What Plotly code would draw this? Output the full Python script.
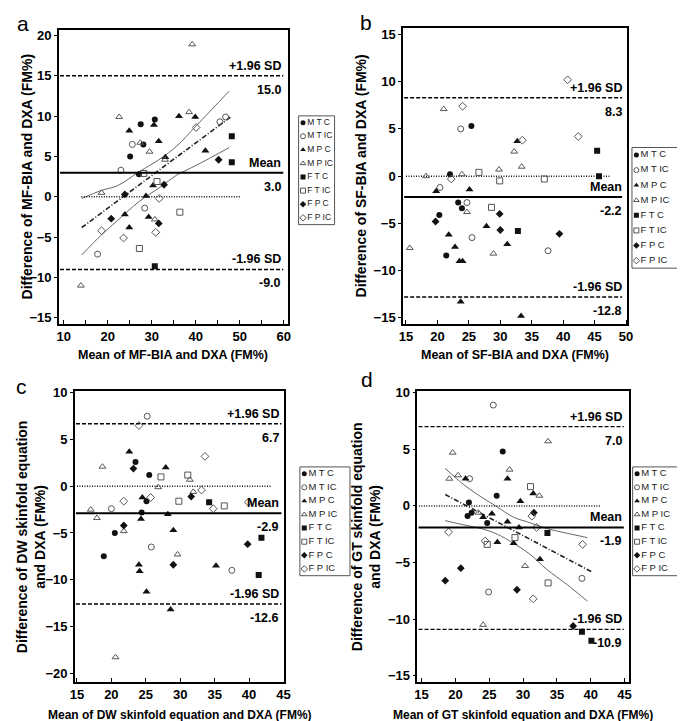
import plotly.graph_objects as go

W, H = 685, 721

# ---------------- categories ----------------
groups = ["MTC", "MTIC", "MPC", "MPIC", "FTC", "FTIC", "FPC", "FPIC"]
legend_text = ["M T C", "M T IC", "M P C", "M P IC", "F T C", "F T IC", "F P C", "F P IC"]

# ---------------- panel a : MF-BIA ----------------
a_x = [27.5, 30.7, 28.1, 25.1, 27.1,
       23.0, 25.6, 28.4, 17.7, 45.5, 46.8,
       24.9, 30.5, 36.2, 39.9, 31.6, 33.1, 42.2, 30.3, 28.7, 23.9, 29.3, 24.9,
       22.6, 27.4, 29.5, 38.5, 18.6, 30.7, 33.0, 39.2, 13.9,
       48.2, 48.2, 30.7,
       28.2, 31.2, 36.4, 27.2,
       45.2, 32.8, 23.9, 20.8, 31.6,
       40.1, 31.7, 18.6, 23.6, 30.9]
a_y = [9.0, 9.6, 6.5, 5.0, 2.8,
       3.3, 6.5, -1.4, -7.1, 9.3, 9.9,
       8.2, 8.9, 10.0, 9.9, 6.9, 4.9, 5.7, 1.4, 0.1, -2.2, -2.5, -3.8,
       9.9, 6.7, 5.6, 10.5, 0.5, -2.8, 4.6, 18.9, -11.0,
       7.5, 4.3, -8.6,
       2.9, 1.9, -1.9, -6.4,
       4.6, 1.5, 0.3, -2.7, -3.3,
       8.6, -0.2, -4.2, -5.1, -4.4]
a_g = ["MTC"] * 5 + ["MTIC"] * 6 + ["MPC"] * 12 + ["MPIC"] * 9 + ["FTC"] * 3 + ["FTIC"] * 4 + ["FPC"] * 5 + ["FPIC"] * 5
a_lim = [15.0, 3.0, -9.0]
a_zero = [14.0, 50.2]
a_reg_x = [14.1, 48.2]
a_reg_y = [-3.8, 10.0]
a_ci_x = [14.1, 18.6, 22.3, 27.1, 31.9, 35.7, 40.1, 47.6]
a_ci_up = [-0.2, 0.8, 1.4, 3.1, 4.7, 6.3, 8.8, 13.1]
a_ci_lo = [-7.2, -4.7, -2.9, -0.6, 1.2, 2.7, 3.9, 6.1]

# ---------------- panel b : SF-BIA ----------------
b_x = [25.4, 22.0, 23.3, 23.9, 20.3, 21.4,
       23.7, 20.4, 24.7, 25.5, 37.6,
       32.7, 19.8, 25.1, 21.8, 22.8, 23.5, 24.0, 27.8, 31.1, 23.7, 33.3,
       21.0, 18.2, 23.9, 29.8, 32.2, 33.4, 24.7, 28.9, 15.6,
       45.4, 45.7, 32.8,
       26.6, 29.9, 37.0, 28.6,
       29.9, 30.0, 19.7, 39.4,
       24.0, 33.5, 42.4, 22.2, 40.7]
b_y = [5.3, 0.2, -2.8, -3.4, -4.1, -8.4,
       5.0, -1.2, -2.8, -6.5, -7.9,
       3.7, -1.6, -1.4, -6.2, -7.5, -9.0, -9.0, -5.3, -7.2, -13.3, -14.8,
       7.1, 0.0, 0.2, 0.7, 2.6, 1.0, -3.8, -8.2, -7.6,
       2.7, 0.0, -5.8,
       0.4, -0.5, -0.3, -3.3,
       -4.0, -5.7, -4.8, -6.1,
       7.4, 3.8, 4.2, -0.3, 10.2]
b_g = ["MTC"] * 6 + ["MTIC"] * 5 + ["MPC"] * 11 + ["MPIC"] * 9 + ["FTC"] * 3 + ["FTIC"] * 4 + ["FPC"] * 4 + ["FPIC"] * 5
b_lim = [8.3, -2.2, -12.8]
b_zero = [15.0, 47.6]

# ---------------- panel c : DW skinfold ----------------
c_x = [23.5, 25.5, 25.1, 24.4, 20.5, 18.9,
       25.2, 20.0, 25.8, 37.5,
       22.6, 27.9, 24.5, 24.3, 28.2, 29.0, 24.0, 24.1, 25.1, 28.6, 35.2,
       18.7, 26.8, 31.4, 31.9, 17.0, 17.9, 21.8, 29.6, 20.6,
       34.2, 41.8, 41.4,
       27.2, 31.1, 29.8, 36.4,
       23.2, 21.8, 31.6, 29.0, 39.8,
       24.0, 33.6, 21.8, 25.7, 33.1, 34.8, 39.9]
c_y = [2.6, 1.2, -1.6, -2.8, -5.0, -7.5,
       7.5, -2.4, -6.5, -9.0,
       3.7, 2.0, -1.2, -3.5, -3.0, -4.7, -8.4, -9.1, -11.3, -13.2, -8.5,
       2.1, -0.1, 0.7, -0.6, -2.5, -3.4, -4.8, -7.3, -18.3,
       -1.7, -5.5, -9.5,
       1.0, 1.2, -1.6, -2.1,
       1.9, -4.2, -1.1, -8.4, -6.2,
       6.5, 3.2, -1.6, -1.2, -0.4, -2.4, -1.7]
c_g = ["MTC"] * 6 + ["MTIC"] * 4 + ["MPC"] * 11 + ["MPIC"] * 9 + ["FTC"] * 3 + ["FTIC"] * 4 + ["FPC"] * 5 + ["FPIC"] * 7
c_lim = [6.7, -2.9, -12.6]
c_zero = [15.0, 43.2]

# ---------------- panel d : GT skinfold ----------------
d_x = [27.0, 26.1, 22.0, 22.4, 21.8, 24.7,
       25.6, 22.1, 24.9, 38.7,
       21.5, 27.7, 31.5, 29.6, 25.4, 24.1, 27.7, 29.4, 26.2, 28.6, 32.5,
       19.6, 19.1, 20.4, 28.0, 33.7, 32.4, 23.4, 30.3, 24.1,
       33.6, 38.7, 40.1,
       31.1, 28.8, 24.7, 33.7,
       31.6, 20.8, 18.5, 29.1, 37.4,
       31.3, 19.0, 32.0, 24.4, 38.8, 31.5]
d_y = [4.8, 0.9, 0.3, -0.6, -0.9, -1.5,
       8.9, 2.4, -7.6, -6.4,
       2.4, 2.4, 1.1, 0.4, -0.7, -1.0, -1.4, -1.9, -3.2, -3.3, -4.7,
       4.7, 2.4, 2.7, 3.2, 5.7, 0.9, -0.6, -5.3, -10.5,
       -2.4, -11.1, -11.9,
       1.7, -2.8, -3.4, -6.8,
       -0.6, -5.5, -6.6, -7.4, -10.6,
       -0.9, -2.3, -1.9, -3.1, -3.4, -8.2]
d_g = ["MTC"] * 6 + ["MTIC"] * 4 + ["MPC"] * 11 + ["MPIC"] * 9 + ["FTC"] * 3 + ["FTIC"] * 4 + ["FPC"] * 5 + ["FPIC"] * 6
d_lim = [7.0, -1.9, -10.9]
d_zero = [14.6, 41.5]
d_reg_x = [18.5, 40.1]
d_reg_y = [1.0, -5.8]
d_ci_x = [18.5, 21.4, 23.8, 26.2, 28.6, 31.1, 33.5, 36.4, 39.5]
d_ci_up = [3.3, 1.8, 0.8, -0.1, -1.0, -1.5, -2.0, -2.4, -2.8]
d_ci_lo = [-1.3, -1.7, -2.0, -2.5, -3.3, -4.3, -5.6, -6.9, -8.4]

# ---------------- texts ----------------
panel_letters = ["a", "b", "c", "d"]
x_titles = ["Mean of MF-BIA and DXA (FM%)", "Mean of SF-BIA and DXA (FM%)",
            "Mean of DW skinfold equation and DXA (FM%)", "Mean of GT skinfold equation and DXA (FM%)"]
y_titles = ["Difference of MF-BIA and DXA (FM%)", "Difference of SF-BIA and DXA (FM%)",
            "Difference of DW skinfold equation<br>and DXA (FM%)", "Difference of GT skinfold equation<br>and DXA (FM%)"]
lim_labels = ["+1.96 SD", "Mean", "-1.96 SD"]

# ---------------- styles ----------------
ARIAL = "Liberation Sans, Arial, sans-serif"
DARK = "#111111"
GREY = "#555555"
STYLE = {
    "MTC": dict(symbol="circle", size=6, color=DARK),
    "MTIC": dict(symbol="circle-open", size=6, color=GREY, line=dict(width=1, color=GREY)),
    "MPC": dict(symbol="triangle-up", size=7, color=DARK),
    "MPIC": dict(symbol="triangle-up-open", size=6, color=GREY, line=dict(width=1, color=GREY)),
    "FTC": dict(symbol="square", size=6, color=DARK),
    "FTIC": dict(symbol="square-open", size=6, color=GREY, line=dict(width=1, color=GREY)),
    "FPC": dict(symbol="diamond", size=6, color=DARK),
    "FPIC": dict(symbol="diamond-open", size=6, color=GREY, line=dict(width=1, color=GREY)),
}


def px_x(p):
    return p / W


def px_y(p):
    return 1 - p / H


panels = [
    dict(x=a_x, y=a_y, g=a_g, lim=a_lim, zero=a_zero,
         dom=([46.7, 280], [16, 313]), xr=[8.9, 61.0], yr=[-15.7, 20.7],
         xt=[10, 20, 30, 40, 50, 60], xminor=5, yt=list(range(-15, 21, 5)),
         reg=(a_reg_x, a_reg_y, a_ci_x, a_ci_up, a_ci_lo), lab_r=0.976, line_r=0.979,
         ytitle_x=14, xtitle_y=345, xtsize=12.5, letter=(10, 10),
         legend=([290.7, 327.3], [103, 213]), legfont=8.5),
    dict(x=b_x, y=b_y, g=b_g, lim=b_lim, zero=b_zero,
         dom=([397, 625], [14, 313]), xr=[14.53, 50.16], yr=[-15.6, 15.7],
         xt=list(range(15, 51, 5)), xminor=None, yt=list(range(-15, 16, 5)),
         reg=None, lab_r=0.985, line_r=0.978,
         ytitle_x=354, xtitle_y=345, xtsize=12.5, letter=(359, 9),
         legend=([630, 683], [135, 257]), legfont=9.5),
    dict(x=c_x, y=c_y, g=c_g, lim=c_lim, zero=c_zero,
         dom=([63, 276], [381.7, 675]), xr=[14.7, 45.1], yr=[-20.9, 10.15],
         xt=list(range(15, 46, 5)), xminor=None, yt=list(range(-20, 11, 5)),
         reg=None, lab_r=0.987, line_r=0.987,
         ytitle_x=19, xtitle_y=709, xtsize=12, letter=(9, 377),
         legend=([292, 343], [458, 568]), legfont=9.5),
    dict(x=d_x, y=d_y, g=d_g, lim=d_lim, zero=d_zero,
         dom=([411.7, 627.3], [381.7, 675]), xr=[14.4, 45.7], yr=[-15.5, 10.1],
         xt=list(range(15, 46, 5)), xminor=None, yt=list(range(-15, 11, 5)),
         reg=(d_reg_x, d_reg_y, d_ci_x, d_ci_up, d_ci_lo), lab_r=0.975, line_r=0.974,
         ytitle_x=360, xtitle_y=709, xtsize=12, letter=(360, 370),
         legend=([630.7, 683], [458, 568]), legfont=9.5),
]

fig = go.Figure()
layout = {}
annotations = []
shapes = []

TICKFONT = dict(family=ARIAL, size=13, color="black", weight="bold")
LABFONT = dict(family=ARIAL, size=12.5, color="black", weight="bold")

for i, p in enumerate(panels):
    n = i + 1
    xa = "x" if n == 1 else f"x{n}"
    ya = "y" if n == 1 else f"y{n}"
    xkey = "xaxis" if n == 1 else f"xaxis{n}"
    ykey = "yaxis" if n == 1 else f"yaxis{n}"
    (x0, x1), (y0, y1) = p["dom"]
    xaxis = dict(domain=[px_x(x0), px_x(x1)], range=p["xr"], anchor=ya,
                 tickvals=p["xt"], ticks="inside", ticklen=4, tickwidth=1, tickcolor="black",
                 showline=True, linewidth=1.6, linecolor="black", mirror=True,
                 showgrid=False, zeroline=False, tickfont=TICKFONT)
    if p["xminor"]:
        xaxis["minor"] = dict(dtick=p["xminor"], ticks="inside", ticklen=4, tickcolor="black", showgrid=False)
    yaxis = dict(domain=[px_y(y1), px_y(y0)], range=p["yr"], anchor=xa,
                 tickvals=p["yt"], ticks="outside", ticklen=3, tickwidth=1, tickcolor="black",
                 showline=True, linewidth=1.6, linecolor="black", mirror=True,
                 showgrid=False, zeroline=False, tickfont=TICKFONT)
    layout[xkey] = xaxis
    layout[ykey] = yaxis

    # regression with CI
    if p["reg"]:
        rx, ry, cx, cu, cl = p["reg"]
        fig.add_trace(go.Scatter(x=cx, y=cu, mode="lines", line=dict(color="#666666", width=1, shape="spline"),
                                 xaxis=xa, yaxis=ya, hoverinfo="skip"))
        fig.add_trace(go.Scatter(x=cx, y=cl, mode="lines", line=dict(color="#666666", width=1, shape="spline"),
                                 xaxis=xa, yaxis=ya, hoverinfo="skip"))
        fig.add_trace(go.Scatter(x=rx, y=ry, mode="lines", line=dict(color="#222222", width=1.6, dash="5px,2px,1px,2px"),
                                 xaxis=xa, yaxis=ya, hoverinfo="skip"))

    # zero line (dotted)
    fig.add_trace(go.Scatter(x=p["zero"], y=[0, 0], mode="lines",
                             line=dict(color="#111111", width=1.5, dash="1px,1.5px"),
                             xaxis=xa, yaxis=ya, hoverinfo="skip"))

    # limit lines
    for k, v in enumerate(p["lim"]):
        shapes.append(dict(type="line", xref=f"{xa} domain", yref=ya, x0=0.005, x1=p["line_r"], y0=v, y1=v,
                           line=dict(color="black", width=2 if k == 1 else 1.4,
                                     dash="solid" if k == 1 else "4px,2px")))
        annotations.append(dict(xref=f"{xa} domain", yref=ya, x=p["lab_r"], y=v, text=lim_labels[k],
                                xanchor="right", yanchor="bottom", yshift=1, showarrow=False, font=LABFONT))
        annotations.append(dict(xref=f"{xa} domain", yref=ya, x=p["lab_r"], y=v, text=f"{v:.1f}",
                                xanchor="right", yanchor="top", yshift=-5, showarrow=False, font=LABFONT))

    # scatter points per group
    for gname in groups:
        xs = [xv for xv, gv in zip(p["x"], p["g"]) if gv == gname]
        ys = [yv for yv, gv in zip(p["y"], p["g"]) if gv == gname]
        fig.add_trace(go.Scatter(x=xs, y=ys, mode="markers", name=gname, marker=STYLE[gname],
                                 xaxis=xa, yaxis=ya))

    # axis titles
    ymid = (y0 + y1) / 2
    annotations.append(dict(xref="paper", yref="paper", x=px_x(p["ytitle_x"]), y=px_y(ymid),
                            text=y_titles[i], textangle=-90, showarrow=False,
                            xanchor="center", yanchor="middle",
                            font=dict(family=ARIAL, size=14, color="black", weight="bold")))
    annotations.append(dict(xref="paper", yref="paper", x=px_x((x0 + x1) / 2), y=px_y(p["xtitle_y"]),
                            text=x_titles[i], showarrow=False, xanchor="center", yanchor="middle",
                            font=dict(family=ARIAL, size=p["xtsize"], color="black", weight="bold")))
    annotations.append(dict(xref="paper", yref="paper", x=px_x(p["letter"][0]), y=px_y(p["letter"][1]),
                            text=panel_letters[i], showarrow=False, xanchor="center", yanchor="middle",
                            font=dict(family=ARIAL, size=21, color="black")))

    # legend box (drawn on its own hidden axes)
    m = n + 4
    lxa, lya = f"x{m}", f"y{m}"
    (lx0, lx1), (ly0, ly1) = p["legend"]
    lw, lh = lx1 - lx0, ly1 - ly0
    layout[f"xaxis{m}"] = dict(domain=[px_x(lx0), px_x(lx1)], range=[0, lw], anchor=lya, visible=False, fixedrange=True)
    layout[f"yaxis{m}"] = dict(domain=[px_y(ly1), px_y(ly0)], range=[lh, 0], anchor=lxa, visible=False, fixedrange=True)
    step = lh / len(groups)
    for j, gname in enumerate(groups):
        fig.add_trace(go.Scatter(x=[4.5], y=[(j + 0.5) * step], mode="markers+text", text=[legend_text[j]],
                                 textposition="middle right", marker=dict(STYLE[gname], size=5),
                                 textfont=dict(family=ARIAL, size=p["legfont"], color="#222222"),
                                 xaxis=lxa, yaxis=lya, hoverinfo="skip"))
    shapes.append(dict(type="rect", xref=f"{lxa} domain", yref=f"{lya} domain", x0=0, x1=1, y0=0, y1=1,
                       line=dict(color="#555555", width=1)))

fig.update_layout(width=W, height=H, autosize=False, margin=dict(l=0, r=0, t=0, b=0),
                  paper_bgcolor="white", plot_bgcolor="white", showlegend=False,
                  annotations=annotations, shapes=shapes, **layout)
fig.write_html("out.html")
